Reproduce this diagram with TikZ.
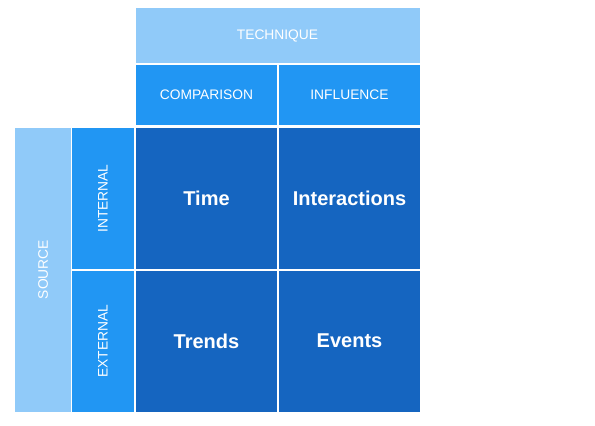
\documentclass[tikz,border=0pt]{standalone}
\usepackage{fontspec}
\setmainfont{Liberation Sans}
\usepackage{tikz}

\definecolor{blueLight}{HTML}{90CAF9}
\definecolor{blueMid}{HTML}{2196F3}
\definecolor{blueDark}{HTML}{1565C0}

\begin{document}
\begin{tikzpicture}[x=1pt, y=-1pt,
	box/.style={inner sep=0pt, outer sep=0pt, text=white, align=center},
	headlight/.style={box, fill=blueLight, font=\fontsize{13.8}{16}\selectfont},
	headmid/.style={box, fill=blueMid, font=\fontsize{13.8}{16}\selectfont},
	cellbox/.style={box, fill=blueDark, font=\bfseries\fontsize{20}{24}\selectfont,
		minimum width=141pt, minimum height=141pt}]
	\useasboundingbox (0,0) rectangle (595,426);
	% column headers
	\node[headlight, minimum width=284pt, minimum height=55pt] (technique) at (277.5,35.5) {TECHNIQUE};
	\node[headmid, minimum width=141pt, minimum height=60pt] (comparison) at (206.5,95) {COMPARISON};
	\node[headmid, minimum width=141pt, minimum height=60pt] (influence) at (349.5,95) {INFLUENCE};
	% row headers
	\node[headlight, minimum width=284pt, minimum height=56pt, rotate=90] (source) at (43,269.5) {SOURCE};
	\node[headmid, minimum width=141pt, minimum height=62pt, rotate=90] (internal) at (103,198.5) {INTERNAL};
	\node[headmid, minimum width=141pt, minimum height=62pt, rotate=90] (external) at (103,341) {EXTERNAL};
	% cells
	\node[cellbox] (time) at (206.5,198.5) {Time};
	\node[cellbox] (interactions) at (349.5,198.5) {Interactions};
	\node[cellbox] (trends) at (206.5,341) {Trends};
	\node[cellbox] (events) at (349.5,341) {Events};
\end{tikzpicture}
\end{document}
